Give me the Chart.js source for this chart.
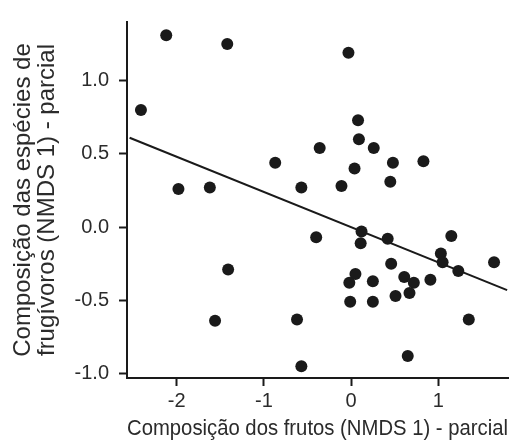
<!DOCTYPE html>
<html>
<head>
<meta charset="utf-8">
<script src="https://cdn.jsdelivr.net/npm/chart.js@4/dist/chart.umd.min.js"></script>
<style>
  html, body { margin: 0; padding: 0; background: #fff; }
  #wrap { width: 532px; height: 443px; position: relative; }
</style>
</head>
<body>
<div id="wrap"><canvas id="c" width="532" height="443"></canvas></div>
<script>
// Data
const frutosX = [-2.12, -1.42, -2.41, -1.98, -1.62, -0.87, -0.57, -0.36, -0.03, 0.08, 0.09, 0.26, 0.48, 0.83, 0.04, -0.11, 0.45,
                 -0.40, -1.41, -1.56, -0.62, -0.57, 0.12, 0.11, 0.42, 1.15, 1.64, 1.03, 1.05, 1.23, 0.46, 0.05, -0.02, 0.25,
                 0.61, 0.72, 0.91, 0.51, 0.67, -0.01, 0.25, 1.35, 0.65];
const frugivorosY = [1.31, 1.25, 0.80, 0.26, 0.27, 0.44, 0.27, 0.54, 1.19, 0.73, 0.60, 0.54, 0.44, 0.45, 0.40, 0.28, 0.31,
                     -0.07, -0.29, -0.64, -0.63, -0.95, -0.03, -0.11, -0.08, -0.06, -0.24, -0.18, -0.24, -0.30, -0.25, -0.32, -0.38, -0.37,
                     -0.34, -0.38, -0.36, -0.47, -0.45, -0.51, -0.51, -0.63, -0.88];
const fitLineX = [-2.54, 1.79];
const fitLineY = [0.61, -0.43];
const xTickValues = [-2, -1, 0, 1];
const yTickValues = [-1.0, -0.5, 0.0, 0.5, 1.0];
const xTitle = 'Composição dos frutos (NMDS 1) - parcial';
const yTitle = ['Composição das espécies de', 'frugívoros (NMDS 1) - parcial'];

const points = frutosX.map((x, i) => ({ x: x, y: frugivorosY[i] }));
const line = fitLineX.map((x, i) => ({ x: x, y: fitLineY[i] }));

const INK = '#1a1a1a';
const TXT = '#2b2b2b';
const FONT = "'Liberation Sans', Arial, sans-serif";

new Chart(document.getElementById('c'), {
  type: 'scatter',
  data: {
    datasets: [
      {
        data: points,
        backgroundColor: INK,
        borderColor: INK,
        pointRadius: 6,
        pointHoverRadius: 6,
        borderWidth: 0
      },
      {
        type: 'line',
        data: line,
        borderColor: INK,
        borderWidth: 2,
        pointRadius: 0,
        fill: false,
        tension: 0
      }
    ]
  },
  options: {
    responsive: false,
    animation: false,
    events: [],
    layout: { padding: { top: 10, right: 24, left: 0, bottom: 0 } },
    plugins: { legend: { display: false }, tooltip: { enabled: false } },
    scales: {
      x: {
        type: 'linear',
        min: -2.57,
        max: 1.80,
        afterFit: s => { s.height = 65; },
        afterBuildTicks: s => { s.ticks = xTickValues.map(v => ({ value: v })); },
        grid: { drawOnChartArea: false, drawTicks: true, tickLength: 8, tickWidth: 2, tickColor: INK },
        border: { display: true, color: INK, width: 2 },
        ticks: {
          color: TXT,
          font: { family: FONT, size: 20 },
          padding: 3,
          callback: v => String(v)
        },
        title: {
          display: true,
          text: xTitle,
          color: TXT,
          font: { family: FONT, size: 22, lineHeight: 1.1 },
          padding: { top: 0, bottom: 2 }
        }
      },
      y: {
        type: 'linear',
        min: -1.03,
        max: 1.40,
        afterFit: s => { s.width = 127; },
        afterBuildTicks: s => { s.ticks = yTickValues.map(v => ({ value: v })); },
        grid: { drawOnChartArea: false, drawTicks: true, tickLength: 8, tickWidth: 2, tickColor: INK },
        border: { display: true, color: INK, width: 2 },
        ticks: {
          color: TXT,
          font: { family: FONT, size: 20 },
          padding: 10,
          callback: v => Number(v).toFixed(1)
        },
        title: {
          display: true,
          text: yTitle,
          color: TXT,
          font: { family: FONT, size: 24, lineHeight: 1.0 },
          padding: { top: 11, bottom: 0 }
        }
      }
    }
  }
});
</script>
</body>
</html>
